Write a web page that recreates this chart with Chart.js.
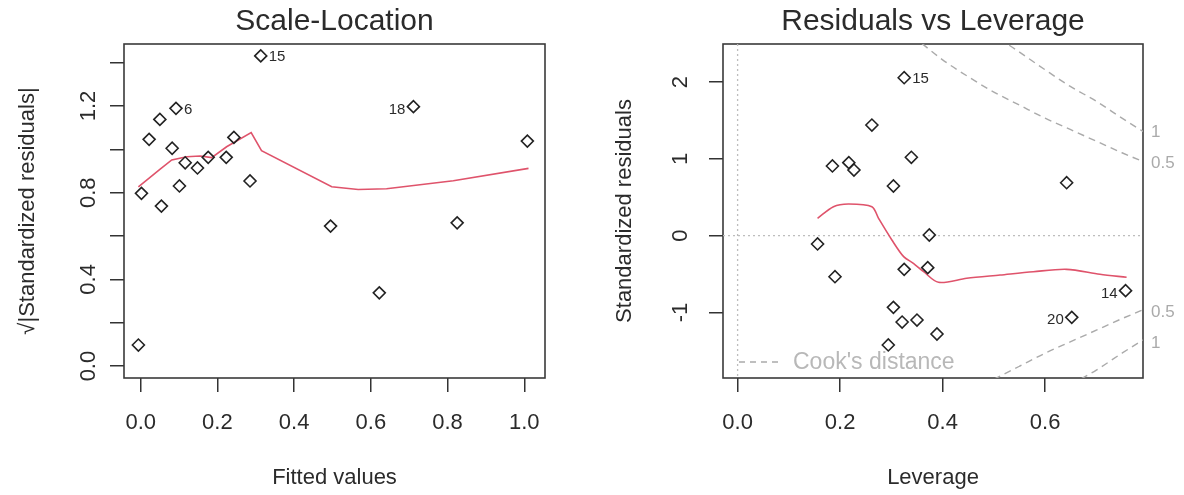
<!DOCTYPE html>
<html>
<head>
<meta charset="utf-8">
<script src="https://cdn.jsdelivr.net/npm/chart.js@4.4.1/dist/chart.umd.min.js"></script>
<style>
  body { margin: 0; background: #fff; }
  .row { display: flex; width: 1184px; height: 495px; }
  canvas { display: block; }
</style>
</head>
<body>
<div class="row">
  <canvas id="scaleLocation" width="592" height="495"></canvas>
  <canvas id="resLeverage" width="592" height="495"></canvas>
</div>
<script>
// Scale-Location panel
const fittedValues = [-0.006, 0.002, 0.022, 0.050, 0.054, 0.082, 0.092, 0.101, 0.116, 0.148,
                      0.176, 0.223, 0.243, 0.285, 0.313, 0.495, 0.622, 0.711, 0.825, 1.008];
const sqrtStdResiduals = [0.097, 0.797, 1.046, 1.138, 0.738, 1.005, 1.189, 0.831, 0.938, 0.914,
                          0.963, 0.963, 1.055, 0.854, 1.431, 0.646, 0.338, 1.197, 0.661, 1.038];
const scaleLocIds = ["", "", "", "", "", "", "6", "", "", "", "", "", "", "", "15", "", "", "18", "", ""];
const scaleSmoothX = [-0.006, 0.050, 0.081, 0.120, 0.155, 0.185, 0.224, 0.288, 0.315, 0.498, 0.567, 0.641, 0.815, 1.011];
const scaleSmoothY = [0.827, 0.907, 0.951, 0.966, 0.969, 0.962, 1.012, 1.077, 0.994, 0.827, 0.815, 0.818, 0.855, 0.912];
const scaleXTicks = [0, 0.2, 0.4, 0.6, 0.8, 1.0];
const scaleXLabels = ["0.0", "0.2", "0.4", "0.6", "0.8", "1.0"];
const scaleYTicks = [0, 0.2, 0.4, 0.6, 0.8, 1.0, 1.2, 1.4];
const scaleYLabels = ["0.0", "", "0.4", "", "0.8", "", "1.2", ""];

// Residuals vs Leverage panel
const leverage = [0.325, 0.262, 0.185, 0.217, 0.227, 0.339, 0.304, 0.642, 0.156, 0.374,
                  0.190, 0.325, 0.371, 0.304, 0.321, 0.350, 0.389, 0.294, 0.652, 0.757];
const stdResiduals = [2.057, 1.441, 0.908, 0.951, 0.855, 1.021, 0.647, 0.690, -0.108, 0.009,
                      -0.534, -0.438, -0.416, -0.933, -1.124, -1.098, -1.280, -1.423, -1.063, -0.716];
const leverageIds = ["15", "", "", "", "", "", "", "", "", "", "", "", "", "", "", "", "", "", "20", "14"];
const levSmoothX = [0.156, 0.187, 0.216, 0.262, 0.275, 0.301, 0.324, 0.343, 0.363, 0.392, 0.447, 0.512, 0.577, 0.642, 0.707, 0.759];
const levSmoothY = [0.226, 0.378, 0.413, 0.378, 0.226, -0.056, -0.273, -0.360, -0.469, -0.607, -0.555, -0.512, -0.469, -0.438, -0.503, -0.542];
const cookHalfUpX = [0.36, 0.40, 0.45, 0.50, 0.55, 0.60, 0.65, 0.70, 0.75, 0.80];
const cookHalfUpY = [2.50, 2.29, 2.07, 1.87, 1.70, 1.53, 1.38, 1.23, 1.08, 0.94];
const cookOneUpX = [0.53, 0.55, 0.60, 0.65, 0.70, 0.75, 0.80];
const cookOneUpY = [2.48, 2.39, 2.16, 1.94, 1.75, 1.53, 1.32];
const cookHalfLowX = [0.50, 0.55, 0.60, 0.65, 0.70, 0.75, 0.80];
const cookHalfLowY = [-1.87, -1.70, -1.53, -1.38, -1.23, -1.08, -0.94];
const cookOneLowX = [0.65, 0.70, 0.75, 0.80];
const cookOneLowY = [-1.94, -1.75, -1.53, -1.32];
const cookLevels = ["1", "0.5", "0.5", "1"];
const cookLevelY = [1.34, 0.94, -1.0, -1.4];
const levXTicks = [0, 0.2, 0.4, 0.6];
const levXLabels = ["0.0", "0.2", "0.4", "0.6"];
const levYTicks = [-1, 0, 1, 2];
const levYLabels = ["-1", "0", "1", "2"];

Chart.defaults.font.family = "'Liberation Sans', Arial, sans-serif";
Chart.defaults.color = "#2b2b2b";

const red = "#DF536B";
const cookGrey = "#aaaaaa";
const ink = "#2b2b2b";

function zip(xs, ys) {
    return xs.map((x, i) => ({ x: x, y: ys[i] }));
}

// box around the plot region + title centred over it (like R)
const boxPlugin = {
    id: "box",
    beforeDatasetsDraw(chart) {
        const a = chart.chartArea;
        const ctx = chart.ctx;
        ctx.save();
        ctx.strokeStyle = "#3a3a3a";
        ctx.lineWidth = 1.6;
        ctx.strokeRect(a.left, a.top, a.right - a.left, a.bottom - a.top);
        ctx.restore();
    },
    afterDraw(chart, args, opts) {
        const a = chart.chartArea;
        const ctx = chart.ctx;
        ctx.save();
        ctx.fillStyle = ink;
        ctx.font = "30px 'Liberation Sans', Arial, sans-serif";
        ctx.textAlign = "center";
        ctx.textBaseline = "middle";
        ctx.fillText(opts.text, (a.left + a.right) / 2, 22);
        ctx.restore();
    }
};

// point id labels (text next to a few points)
const idPlugin = {
    id: "ids",
    afterDatasetsDraw(chart) {
        const ctx = chart.ctx;
        ctx.save();
        ctx.font = "15px 'Liberation Sans', Arial, sans-serif";
        ctx.fillStyle = ink;
        ctx.textBaseline = "middle";
        chart.data.datasets.forEach((ds, i) => {
            if (!ds.ids) return;
            const meta = chart.getDatasetMeta(i);
            ds.ids.forEach((id, j) => {
                if (!id) return;
                const p = meta.data[j];
                if (ds.idLeft.includes(id)) {
                    ctx.textAlign = "right";
                    ctx.fillText(id, p.x - 8, p.y + 3);
                } else {
                    ctx.textAlign = "left";
                    ctx.fillText(id, p.x + 8, p.y + 1);
                }
            });
        });
        ctx.restore();
    }
};

function axisBase(ticks, labels, min, max) {
    return {
        type: "linear",
        min: min,
        max: max,
        afterBuildTicks: s => { s.ticks = ticks.map(v => ({ value: v })); },
        ticks: {
            callback: (v, i) => labels[i],
            font: { size: 22 },
            color: ink
        },
        grid: { drawOnChartArea: false, drawTicks: true, tickLength: 14, tickColor: "#333", lineWidth: 1.5 },
        border: { display: false }
    };
}

function xAxis(ticks, labels, min, max, title) {
    const ax = axisBase(ticks, labels, min, max);
    ax.position = "bottom";
    ax.ticks.padding = 18;
    ax.ticks.maxRotation = 0;
    ax.title = { display: true, text: title, font: { size: 22 }, color: ink, padding: { top: 0, bottom: 4 } };
    ax.afterFit = s => { s.height = 117; };
    return ax;
}

function yAxis(ticks, labels, min, max, title, width, tickPad, titlePad) {
    const ax = axisBase(ticks, labels, min, max);
    ax.position = "left";
    ax.ticks.minRotation = 90;
    ax.ticks.maxRotation = 90;
    ax.ticks.crossAlign = "center";
    ax.ticks.padding = tickPad;
    ax.title = { display: true, text: title, font: { size: 22 }, color: ink, padding: { top: titlePad, bottom: 0 } };
    ax.afterFit = s => { s.width = width; };
    return ax;
}

const pointStyle = {
    pointStyle: "rectRot",
    pointRadius: 6,
    pointBorderColor: "#222",
    pointBorderWidth: 1.6,
    pointBackgroundColor: "rgba(0,0,0,0)",
    showLine: false
};

// Scale-Location
new Chart(document.getElementById("scaleLocation"), {
    type: "scatter",
    data: {
        datasets: [
            Object.assign({
                label: "points",
                data: zip(fittedValues, sqrtStdResiduals),
                ids: scaleLocIds,
                idLeft: ["18"]
            }, pointStyle),
            {
                label: "smooth",
                data: zip(scaleSmoothX, scaleSmoothY),
                showLine: true,
                borderColor: red,
                borderWidth: 1.6,
                pointRadius: 0,
                tension: 0
            }
        ]
    },
    options: {
        responsive: false,
        animation: false,
        devicePixelRatio: 1,
        layout: { padding: { left: 0, right: 47, top: 44, bottom: 0 } },
        plugins: {
            legend: { display: false },
            tooltip: { enabled: false },
            title: { display: false },
            box: { text: "Scale-Location" }
        },
        scales: {
            x: xAxis(scaleXTicks, scaleXLabels, -0.0435, 1.054, "Fitted values"),
            y: yAxis(scaleYTicks, scaleYLabels, -0.055, 1.486, "\u221A|Standardized residuals|", 124, 6, 15)
        }
    },
    plugins: [boxPlugin, idPlugin]
});

// reference lines, Cook's contour labels and legend
const levExtras = {
    id: "levExtras",
    beforeDatasetsDraw(chart) {
        const a = chart.chartArea;
        const ctx = chart.ctx;
        const x0 = chart.scales.x.getPixelForValue(0);
        const y0 = chart.scales.y.getPixelForValue(0);
        ctx.save();
        ctx.strokeStyle = "#bdbdbd";
        ctx.lineWidth = 1.3;
        ctx.setLineDash([2, 3]);
        ctx.beginPath();
        ctx.moveTo(x0, a.top);
        ctx.lineTo(x0, a.bottom);
        ctx.moveTo(a.left, y0);
        ctx.lineTo(a.right, y0);
        ctx.stroke();
        ctx.restore();
    },
    afterDatasetsDraw(chart) {
        const a = chart.chartArea;
        const ctx = chart.ctx;
        ctx.save();
        ctx.fillStyle = cookGrey;
        ctx.font = "17px 'Liberation Sans', Arial, sans-serif";
        ctx.textAlign = "left";
        ctx.textBaseline = "middle";
        cookLevels.forEach((t, i) => {
            ctx.fillText(t, a.right + 8, chart.scales.y.getPixelForValue(cookLevelY[i]));
        });
        // legend
        const ly = a.bottom - 16;
        ctx.strokeStyle = cookGrey;
        ctx.lineWidth = 1.4;
        ctx.setLineDash([6, 5]);
        ctx.beginPath();
        ctx.moveTo(a.left + 16, ly);
        ctx.lineTo(a.left + 58, ly);
        ctx.stroke();
        ctx.fillStyle = "#b8b8b8";
        ctx.font = "23px 'Liberation Sans', Arial, sans-serif";
        ctx.fillText("Cook's distance", a.left + 70, ly + 1);
        ctx.restore();
    }
};

function cookSet(xs, ys) {
    return {
        data: zip(xs, ys),
        showLine: true,
        borderColor: cookGrey,
        borderWidth: 1.4,
        borderDash: [7, 5],
        pointRadius: 0,
        cubicInterpolationMode: "monotone"
    };
}

new Chart(document.getElementById("resLeverage"), {
    type: "scatter",
    data: {
        datasets: [
            Object.assign({
                label: "points",
                data: zip(leverage, stdResiduals),
                ids: leverageIds,
                idLeft: ["20", "14"]
            }, pointStyle),
            {
                label: "smooth",
                data: zip(levSmoothX, levSmoothY),
                showLine: true,
                borderColor: red,
                borderWidth: 1.6,
                pointRadius: 0,
                tension: 0.3
            },
            cookSet(cookHalfUpX, cookHalfUpY),
            cookSet(cookOneUpX, cookOneUpY),
            cookSet(cookHalfLowX, cookHalfLowY),
            cookSet(cookOneLowX, cookOneLowY)
        ]
    },
    options: {
        responsive: false,
        animation: false,
        devicePixelRatio: 1,
        layout: { padding: { left: 0, right: 41, top: 44, bottom: 0 } },
        plugins: {
            legend: { display: false },
            tooltip: { enabled: false },
            title: { display: false },
            box: { text: "Residuals vs Leverage" }
        },
        scales: {
            x: xAxis(levXTicks, levXLabels, -0.0285, 0.791, "Leverage"),
            y: yAxis(levYTicks, levYLabels, -1.853, 2.496, "Standardized residuals", 131, 18, 20)
        }
    },
    plugins: [boxPlugin, levExtras, idPlugin]
});
</script>
</body>
</html>
